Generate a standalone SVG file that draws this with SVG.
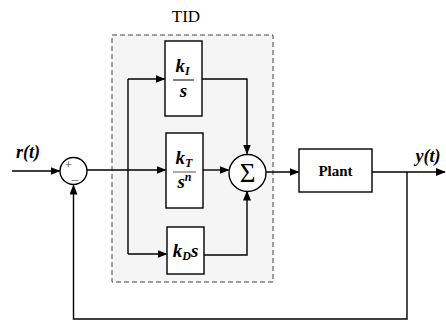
<svg xmlns="http://www.w3.org/2000/svg" width="446" height="322" viewBox="0 0 446 322">
<style>
.blk{fill:#fff;stroke:#000;stroke-width:1.4}
.ln{fill:none;stroke:#000;stroke-width:1.4}
.s{font-family:'Liberation Serif','Times New Roman',serif}
.m{font-family:'Liberation Serif','Times New Roman',serif;font-style:italic;font-weight:bold}
</style>
<defs>
<marker id="ah" markerWidth="10" markerHeight="8" refX="9" refY="4" orient="auto" markerUnits="userSpaceOnUse">
<path d="M0,0 L10,4 L0,8 Z" fill="#000"/>
</marker>
</defs>
<g id="tid">
<rect x="112" y="35" width="161" height="247" fill="#f5f5f5" stroke="#444" stroke-width="1" stroke-dasharray="5,3"/>
<text class="s" x="186" y="22" font-size="17" text-anchor="middle">TID</text>
</g>
<g id="connectors">
<path class="ln" d="M12,171 H59.5" marker-end="url(#ah)"/>
<path class="ln" d="M87,170 H128"/>
<path class="ln" d="M128,170 H165.5" marker-end="url(#ah)"/>
<path class="ln" d="M128,79 V254"/>
<path class="ln" d="M128,79 H164.5" marker-end="url(#ah)"/>
<path class="ln" d="M128,254 H166.5" marker-end="url(#ah)"/>
<path class="ln" d="M202,79 H247 V153.5" marker-end="url(#ah)"/>
<path class="ln" d="M203,170 H228.5" marker-end="url(#ah)"/>
<path class="ln" d="M204,255 H247 V191.5" marker-end="url(#ah)"/>
<path class="ln" d="M266,172 H298.5" marker-end="url(#ah)"/>
<path class="ln" d="M372,172 H445" marker-end="url(#ah)"/>
<path class="ln" d="M407,172 V319 H73.5 V185.5" marker-end="url(#ah)"/>
</g>
<g id="sum1">
<circle cx="73.5" cy="171" r="13.5" fill="#fff" stroke="#000" stroke-width="1.4"/>
<text class="s" x="68.5" y="169" font-size="13" text-anchor="middle" fill="#444">+</text>
<text class="s" x="75" y="183" font-size="13" text-anchor="middle" fill="#444">–</text>
</g>
<g id="ki" class="m">
<rect class="blk" x="165" y="41" width="37" height="75"/>
<text x="182.5" y="72" font-size="19" text-anchor="middle">k<tspan font-size="12" dy="3">I</tspan></text>
<line x1="173" y1="80" x2="194" y2="80" stroke="#000" stroke-width="1"/>
<text x="183.5" y="97" font-size="19" text-anchor="middle">s</text>
</g>
<g id="kt" class="m">
<rect class="blk" x="166" y="133" width="37" height="75"/>
<text x="184" y="164" font-size="19" text-anchor="middle">k<tspan font-size="12" dy="3">T</tspan></text>
<line x1="173" y1="172" x2="196" y2="172" stroke="#555" stroke-width="1"/>
<text x="184.5" y="188" font-size="19" text-anchor="middle">s<tspan font-size="12" dy="-7">n</tspan></text>
</g>
<g id="kd" class="m">
<rect class="blk" x="167" y="227" width="37" height="47"/>
<text x="185.5" y="257" font-size="19" text-anchor="middle">k<tspan font-size="12" dy="3">D</tspan><tspan dy="-3">s</tspan></text>
</g>
<g id="sum2">
<circle cx="247.5" cy="173" r="18.5" fill="#fff" stroke="#000" stroke-width="1.4"/>
<text class="s" x="247.5" y="182" font-size="27" text-anchor="middle">Σ</text>
</g>
<g id="plant">
<rect class="blk" x="299" y="149" width="73" height="43"/>
<text class="s" x="335.5" y="176" font-size="15" font-weight="bold" text-anchor="middle">Plant</text>
</g>
<g id="labels" class="m">
<text x="28" y="158" font-size="18" text-anchor="middle">r(t)</text>
<text x="428" y="162" font-size="18" text-anchor="middle">y(t)</text>
</g>
</svg>
